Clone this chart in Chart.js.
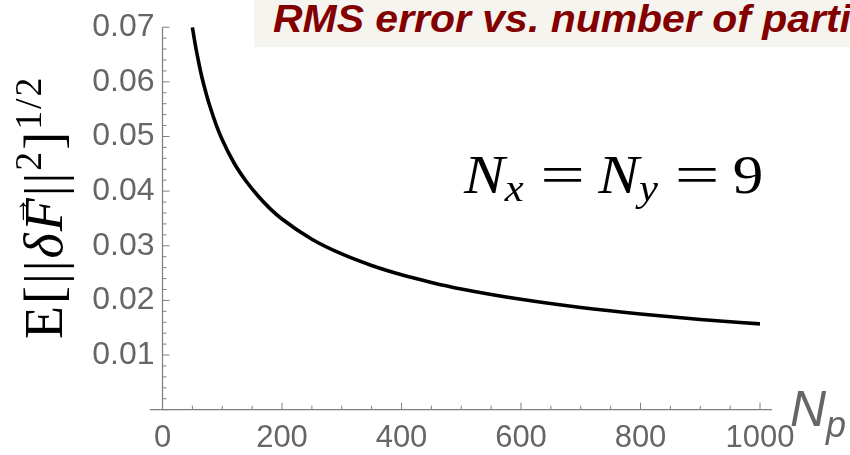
<!DOCTYPE html>
<html>
<head>
<meta charset="utf-8">
<script src="https://cdn.jsdelivr.net/npm/chart.js@4.4.1/dist/chart.umd.min.js"></script>
<style>
  html, body { margin: 0; padding: 0; background: #ffffff; }
  #wrap { position: relative; width: 850px; height: 455px; overflow: hidden; }
  canvas { position: absolute; left: 0; top: 0; }
  #titlebox { position: absolute; left: 254px; top: 0; width: 620px; height: 47px; background: #f5f4ef; overflow: hidden; }
  #title { position: absolute; left: 19px; top: -3px; white-space: nowrap; font-family: "Liberation Sans", Arial, sans-serif; font-weight: bold; font-style: italic; font-size: 39px; color: #820000; transform-origin: 0 0; transform: scaleX(1.05); }
  .tex { font-family: "Liberation Serif", "DejaVu Serif", serif; color: #000; white-space: nowrap; position: absolute; }
  #ylab { left: 0; top: 0; font-size: 54px; letter-spacing: 2px; transform-origin: 0 0; }
  #ylab sup { font-size: 0.7em; vertical-align: 0.55em; line-height: 0; }
  #ann { font-size: 54px; transform-origin: 0 0; transform: scaleX(1.13); }
  #ann sub { font-size: 0.7em; vertical-align: -0.2em; line-height: 0; font-style: italic; }
  #ann .eq { display: inline-block; transform: scaleX(1.3); margin: 0 0.3em 0 0.36em; }
  #np { position: absolute; font-family: "Liberation Sans", Arial, sans-serif; font-style: italic; color: #666666; white-space: nowrap; font-size: 50px; }
  #np sub { font-size: 0.72em; vertical-align: -0.3em; line-height: 0; }
</style>
</head>
<body>
<div id="wrap">
  <canvas id="c" width="850" height="455"></canvas>
  <div id="titlebox"><div id="title">RMS error vs. number of particles</div></div>
  <div id="ylab" class="tex">E[||<i>δ</i><span style="position:relative;font-style:italic">F<span style="position:absolute;left:0.18em;top:-0.42em;font-size:0.55em;font-style:normal">→</span></span>||<sup>2</sup>]<sup>1/2</sup></div>
  <div id="ann" class="tex"><i>N</i><sub>x</sub><span class="eq">=</span><i>N</i><sub>y</sub><span class="eq">=</span>9</div>
  <div id="np">N<sub>p</sub></div>
</div>
<script>
// ---- data ----
const particles = [50, 55, 60, 65, 70, 75, 80, 90, 100, 120, 140, 160, 180, 200, 250, 300, 350, 400, 450, 500, 600, 700, 800, 900, 1000];
const rmsError  = [0.0700, 0.0667, 0.0639, 0.0613, 0.0591, 0.0571, 0.0553, 0.0521, 0.0494, 0.0451, 0.0418, 0.0391, 0.0368, 0.0349, 0.0312, 0.0285, 0.0264, 0.0247, 0.0233, 0.0221, 0.0202, 0.0187, 0.0175, 0.0165, 0.0157];
const xTickLabels = ['0', '200', '400', '600', '800', '1000'];
const yTickLabels = ['', '0.01', '0.02', '0.03', '0.04', '0.05', '0.06', '0.07'];
const xMinorStep = 50;
const yMinorStep = 0.002;

const AXIS_COLOR = '#7f7f7f';
const LABEL_COLOR = '#666666';

const axesPlugin = {
  id: 'mmaAxes',
  beforeDatasetsDraw(chart) {
    const ctx = chart.ctx;
    const xs = chart.scales.x, ys = chart.scales.y;
    const x0 = xs.getPixelForValue(0), y0 = ys.getPixelForValue(0);
    ctx.save();
    ctx.strokeStyle = AXIS_COLOR;
    ctx.lineWidth = 1.2;
    ctx.beginPath();
    ctx.moveTo(xs.getPixelForValue(-21), y0);
    ctx.lineTo(xs.getPixelForValue(1020), y0);
    ctx.stroke();
    ctx.beginPath();
    ctx.moveTo(x0, y0);
    ctx.lineTo(x0, ys.getPixelForValue(ys.max));
    ctx.stroke();
    ctx.lineWidth = 1;
    for (let v = 0; v <= xs.max + 1e-9; v += xMinorStep) {
      const px = xs.getPixelForValue(v);
      const major = Math.abs(v % 200) < 1e-6;
      ctx.beginPath();
      ctx.moveTo(px, y0);
      ctx.lineTo(px, y0 - (major ? 7 : 4));
      ctx.stroke();
    }
    for (let i = 0; i <= Math.round(ys.max / yMinorStep); i++) {
      const v = i * yMinorStep;
      const py = ys.getPixelForValue(v);
      const major = i % 5 === 0;
      ctx.beginPath();
      ctx.moveTo(x0, py);
      ctx.lineTo(x0 + (major ? 7 : 4), py);
      ctx.stroke();
    }
    ctx.restore();
  }
};

const chart = new Chart(document.getElementById('c'), {
  type: 'line',
  data: {
    datasets: [{
      data: particles.map((p, i) => ({ x: p, y: rmsError[i] })),
      borderColor: '#000000',
      borderWidth: 3.6,
      pointRadius: 0,
      fill: false,
      cubicInterpolationMode: 'monotone'
    }]
  },
  options: {
    responsive: false,
    animation: false,
    devicePixelRatio: 1,
    layout: { padding: { top: 25, right: 90, left: 0, bottom: 0 } },
    plugins: { legend: { display: false }, tooltip: { enabled: false }, title: { display: false } },
    scales: {
      x: {
        type: 'linear', min: 0, max: 1000,
        grid: { display: false, drawTicks: false },
        border: { display: false },
        ticks: {
          stepSize: 200, color: LABEL_COLOR, padding: 10,
          font: { family: 'Liberation Sans', size: 31 },
          maxRotation: 0, autoSkip: false,
          callback: (v, i) => xTickLabels[i]
        },
        afterFit: s => { s.height = 45.3; }
      },
      y: {
        type: 'linear', min: 0, max: 0.07,
        grid: { display: false, drawTicks: false },
        border: { display: false },
        ticks: {
          stepSize: 0.01, color: LABEL_COLOR, padding: 8,
          font: { family: 'Liberation Sans', size: 32 },
          autoSkip: false,
          callback: (v, i) => yTickLabels[i]
        },
        afterFit: s => { s.width = 162.5; }
      }
    }
  },
  plugins: [axesPlugin]
});

function place() {
  const yl = document.getElementById('ylab');
  const w = yl.offsetWidth, h = yl.offsetHeight;
  yl.style.transform = 'translate(' + (44 - h / 2) + 'px,' + (207 + w / 2) + 'px) rotate(-90deg)';
  const ann = document.getElementById('ann');
  ann.style.left = '464px';
  ann.style.top = (192 - ann.offsetHeight * 0.78) + 'px';
  const np = document.getElementById('np');
  np.style.left = '790px';
  np.style.top = '380px';
}
place();
</script>
</body>
</html>
